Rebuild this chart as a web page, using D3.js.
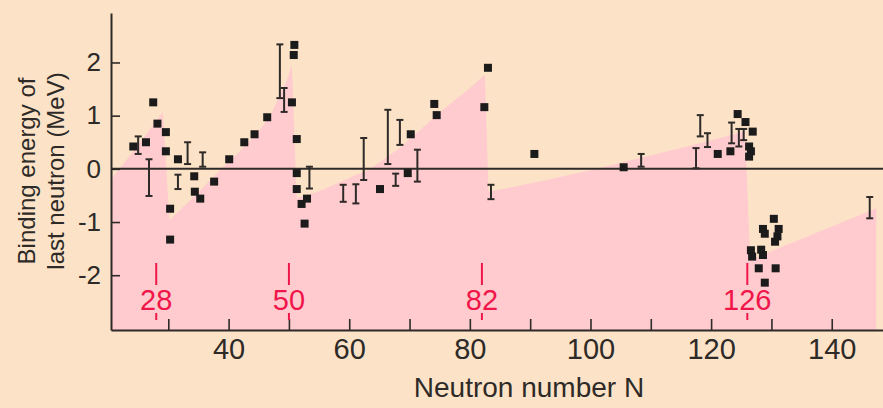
<!DOCTYPE html>
<html>
<head>
<meta charset="utf-8">
<script src="https://cdn.jsdelivr.net/npm/d3@7"></script>
<style>
  html, body { margin: 0; padding: 0; background: #fce3c7; }
  svg { display: block; font-family: "Liberation Sans", Arial, Helvetica, sans-serif; }
</style>
</head>
<body>
<svg id="chart" width="883" height="408"></svg>
<script>
// ---- data ----
// shell-model shading: upper boundary (neutron number, binding energy MeV)
const bandN = [20.5, 24.2, 29.1, 30.2, 34.0, 38.8, 42.0, 45.2, 47.0, 48.5, 49.6, 50.5, 51.3, 55.0, 58.0, 63.5, 68.4, 74.5, 80.0, 82.5, 83.1, 91.6, 101.0, 117.0, 125.6, 126.5, 147.4];
const bandE = [-0.20, 0.33, 1.07, -0.96, -0.55, 0.00, 0.35, 0.73, 1.02, 1.39, 1.65, 1.95, -0.55, -0.42, -0.27, 0.00, 0.39, 1.01, 1.52, 1.77, -0.43, -0.24, 0.00, 0.45, 0.70, -1.71, -0.74];

// measured points (squares)
const pointN = [24.2, 26.3, 27.5, 28.2, 29.6, 29.6, 30.3, 30.3, 31.6, 34.3, 34.4, 35.3, 37.6, 40.1, 42.6, 44.3, 46.4, 50.9, 50.8, 50.5, 51.3, 51.3, 51.3, 52.1, 53.0, 52.6, 65.1, 69.7, 70.2, 74.1, 74.5, 82.4, 83.0, 90.7, 105.5, 121.1, 123.2, 124.4, 125.7, 126.9, 126.3, 126.6, 126.3, 130.4, 128.6, 131.2, 128.9, 131.0, 130.6, 126.6, 128.3, 126.8, 128.6, 127.9, 130.7, 128.9];
const pointE = [0.42, 0.50, 1.25, 0.85, 0.69, 0.33, -0.75, -1.33, 0.18, -0.14, -0.43, -0.56, -0.24, 0.18, 0.50, 0.65, 0.97, 2.33, 2.14, 1.25, 0.56, -0.08, -0.38, -0.66, -0.56, -1.03, -0.38, -0.08, 0.65, 1.22, 1.01, 1.16, 1.90, 0.28, 0.03, 0.28, 0.33, 1.03, 0.88, 0.70, 0.42, 0.33, 0.23, -0.94, -1.13, -1.13, -1.22, -1.27, -1.37, -1.53, -1.52, -1.65, -1.62, -1.87, -1.87, -2.14];

// measured ranges (error bars)
const barN    = [25.0, 26.8, 31.6, 33.2, 35.7, 48.5, 49.2, 53.4, 59.0, 61.1, 62.4, 66.4, 67.7, 68.4, 71.3, 83.5, 108.4, 117.5, 118.2, 119.4, 123.4, 124.6, 125.4, 146.3];
const barHigh = [0.61, 0.18, -0.11, 0.50, 0.31, 2.34, 1.52, 0.04, -0.30, -0.29, 0.58, 1.11, -0.09, 0.92, 0.36, -0.30, 0.28, 0.39, 1.01, 0.67, 0.87, 0.75, 0.75, -0.53];
const barLow  = [0.28, -0.51, -0.38, 0.09, 0.04, 1.33, 1.07, -0.37, -0.62, -0.65, -0.21, 0.09, -0.32, 0.45, -0.24, -0.57, 0.04, 0.01, 0.61, 0.41, 0.48, 0.42, 0.54, -0.93];

// magic numbers
const magicN = [28, 50, 82, 126];

// axes
const xTicks = [30, 40, 50, 60, 70, 80, 90, 100, 110, 120, 130, 140];
const xTickLabels = ["", "40", "", "60", "", "80", "", "100", "", "120", "", "140"];
const yTicks = [-2, -1, 0, 1, 2];
const yTickLabels = ["-2", "-1", "0", "1", "2"];
const xTitle = "Neutron number N";
const yTitle = ["Binding energy of", "last neutron (MeV)"];

// ---- drawing ----
const W = 883, H = 408;
const ink = "#2e2a28", pink = "#ffcbcf", bg = "#fce3c7", red = "#f0164a";
const svg = d3.select("#chart");

const x = d3.scaleLinear().domain([20.5, 148.5]).range([111, 883]);
const y = d3.scaleLinear().domain([-3.03, 2.93]).range([330, 13]);

svg.append("rect").attr("width", W).attr("height", H).attr("fill", bg);

const band = bandN.map((n, i) => [n, bandE[i]]);
svg.append("path")
  .datum(band)
  .attr("fill", pink)
  .attr("d", d3.area().x(d => x(d[0])).y0(y(-3.03)).y1(d => y(d[1])));

// zero line
svg.append("line")
  .attr("x1", x(20.5)).attr("x2", x(148.5))
  .attr("y1", y(0)).attr("y2", y(0))
  .attr("stroke", ink).attr("stroke-width", 2);

// x axis
const xAxis = d3.axisBottom(x)
  .tickValues(xTicks)
  .tickFormat((d, i) => xTickLabels[i])
  .tickSizeInner(-11).tickSizeOuter(0).tickPadding(8);
const gx = svg.append("g").attr("transform", `translate(0,${y(-3.03)})`).call(xAxis);
gx.select(".domain").attr("stroke", ink).attr("stroke-width", 2);
gx.selectAll(".tick line").attr("stroke", ink).attr("stroke-width", 1.6);
gx.selectAll(".tick text").attr("fill", ink).style("font-size", "29px")
  .attr("font-family", "Liberation Sans, Arial, sans-serif");

// y axis
const yAxis = d3.axisLeft(y)
  .tickValues(yTicks)
  .tickFormat((d, i) => yTickLabels[i])
  .tickSizeInner(-9).tickSizeOuter(0).tickPadding(10);
const gy = svg.append("g").attr("transform", `translate(${x(20.5)},0)`).call(yAxis);
gy.select(".domain").attr("stroke", ink).attr("stroke-width", 2);
gy.selectAll(".tick line").attr("stroke", ink).attr("stroke-width", 1.6);
gy.selectAll(".tick text").attr("fill", ink).style("font-size", "26px")
  .attr("font-family", "Liberation Sans, Arial, sans-serif");

// error bars
const bars = barN.map((n, i) => ({ n, hi: barHigh[i], lo: barLow[i] }));
const gb = svg.append("g").attr("stroke", ink).attr("stroke-width", 2).attr("fill", "none");
bars.forEach(b => {
  const cx = x(b.n);
  gb.append("line").attr("x1", cx).attr("x2", cx).attr("y1", y(b.hi)).attr("y2", y(b.lo));
  gb.append("line").attr("x1", cx - 3.5).attr("x2", cx + 3.5).attr("y1", y(b.hi)).attr("y2", y(b.hi));
  gb.append("line").attr("x1", cx - 3.5).attr("x2", cx + 3.5).attr("y1", y(b.lo)).attr("y2", y(b.lo));
});

// squares
const pts = pointN.map((n, i) => ({ n, e: pointE[i] }));
svg.append("g").selectAll("rect").data(pts).join("rect")
  .attr("x", d => x(d.n) - 4).attr("y", d => y(d.e) - 4)
  .attr("width", 8).attr("height", 8)
  .attr("fill", "#1b1b1b");

// magic numbers
const gm = svg.append("g");
magicN.forEach(m => {
  const cx = x(m);
  gm.append("line").attr("x1", cx).attr("x2", cx).attr("y1", 263).attr("y2", 285)
    .attr("stroke", red).attr("stroke-width", 2);
  gm.append("line").attr("x1", cx).attr("x2", cx).attr("y1", 313).attr("y2", 320)
    .attr("stroke", red).attr("stroke-width", 2);
  gm.append("text").attr("x", cx).attr("y", 310)
    .attr("text-anchor", "middle").attr("fill", red)
    .style("font-size", "29px").text(m);
});

// titles
svg.append("text").attr("x", 529).attr("y", 397)
  .attr("text-anchor", "middle").attr("fill", ink)
  .style("font-size", "28px").text(xTitle);

yTitle.forEach((t, i) => {
  svg.append("text")
    .attr("transform", `translate(${35 + i * 29},171) rotate(-90)`)
    .attr("text-anchor", "middle").attr("fill", ink)
    .style("font-size", "24px").text(t);
});
</script>
</body>
</html>
